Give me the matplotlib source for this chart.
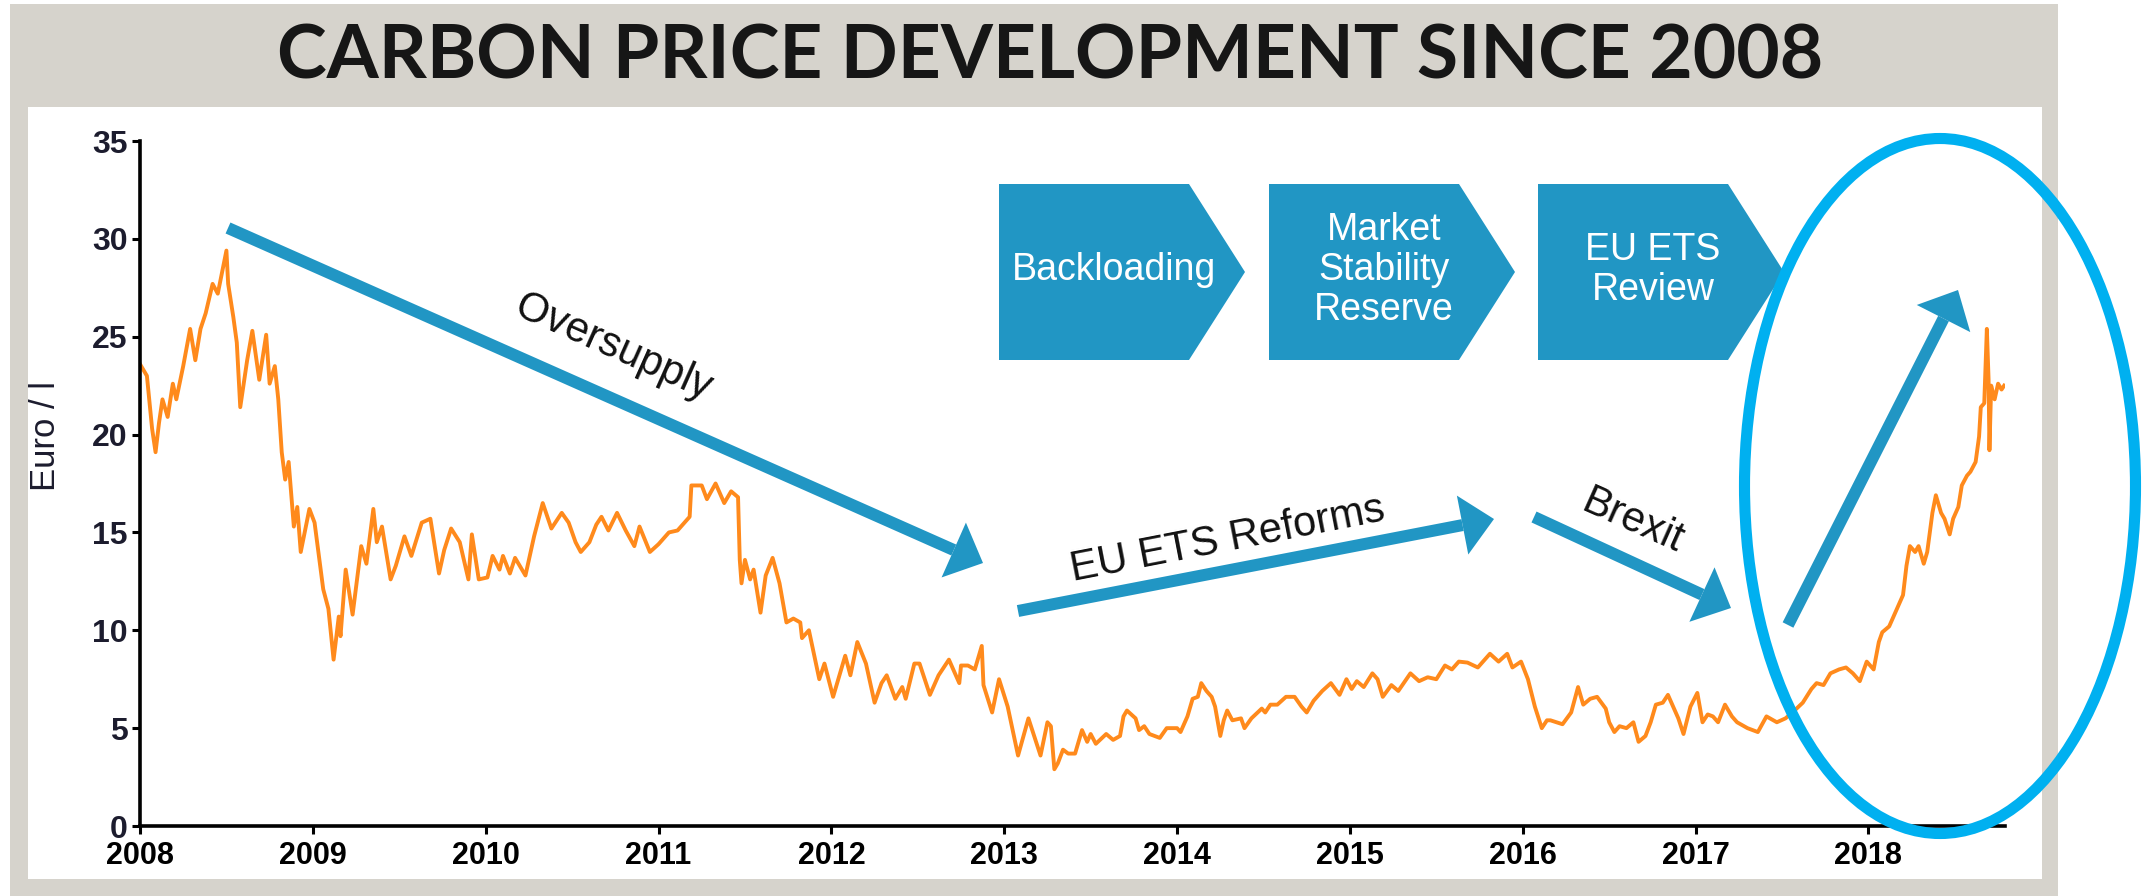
import matplotlib
matplotlib.use("Agg")
import matplotlib.pyplot as plt
import numpy as np
from matplotlib import font_manager
from matplotlib.patches import Rectangle, Polygon, Ellipse

# EUA carbon price, Euro per tonne (decimal year, price)
years = [
    2008.00, 2008.04, 2008.07, 2008.09, 2008.11, 2008.13, 2008.16, 2008.19, 2008.21, 2008.25,
    2008.29, 2008.32, 2008.35, 2008.38, 2008.42, 2008.45, 2008.50, 2008.51, 2008.54, 2008.56,
    2008.58, 2008.62, 2008.65, 2008.69, 2008.73, 2008.75, 2008.78, 2008.80, 2008.82, 2008.84,
    2008.86, 2008.89, 2008.91, 2008.93, 2008.98, 2009.01, 2009.06, 2009.09, 2009.12, 2009.15,
    2009.16, 2009.19, 2009.23, 2009.28, 2009.31, 2009.35, 2009.37, 2009.40, 2009.45, 2009.48,
    2009.53, 2009.57, 2009.63, 2009.68, 2009.73, 2009.76, 2009.80, 2009.85, 2009.90, 2009.92,
    2009.96, 2010.01, 2010.04, 2010.08, 2010.10, 2010.14, 2010.17, 2010.23, 2010.28, 2010.33,
    2010.38, 2010.44, 2010.48, 2010.52, 2010.55, 2010.60, 2010.64, 2010.67, 2010.71, 2010.76,
    2010.81, 2010.86, 2010.89, 2010.95, 2011.00, 2011.06, 2011.11, 2011.18, 2011.19, 2011.25,
    2011.28, 2011.33, 2011.38, 2011.42, 2011.46, 2011.47, 2011.48, 2011.50, 2011.53, 2011.55,
    2011.59, 2011.62, 2011.66, 2011.70, 2011.74, 2011.78, 2011.82, 2011.83, 2011.87, 2011.93,
    2011.96, 2012.01, 2012.08, 2012.11, 2012.15, 2012.20, 2012.25, 2012.29, 2012.32, 2012.37,
    2012.41, 2012.43, 2012.48, 2012.51, 2012.57, 2012.62, 2012.68, 2012.74, 2012.75, 2012.79,
    2012.83, 2012.87, 2012.88, 2012.93, 2012.97, 2013.02, 2013.08, 2013.14, 2013.21, 2013.25,
    2013.27, 2013.29, 2013.31, 2013.34, 2013.37, 2013.41, 2013.45, 2013.48, 2013.50, 2013.53,
    2013.59, 2013.63, 2013.67, 2013.69, 2013.71, 2013.76, 2013.78, 2013.81, 2013.84, 2013.90,
    2013.94, 2014.00, 2014.02, 2014.06, 2014.09, 2014.12, 2014.14, 2014.17, 2014.20, 2014.22,
    2014.25, 2014.27, 2014.29, 2014.32, 2014.37, 2014.39, 2014.43, 2014.49, 2014.51, 2014.54,
    2014.58, 2014.63, 2014.68, 2014.72, 2014.75, 2014.79, 2014.84, 2014.89, 2014.94, 2014.98,
    2015.01, 2015.04, 2015.08, 2015.13, 2015.16, 2015.19, 2015.24, 2015.28, 2015.35, 2015.40,
    2015.45, 2015.50, 2015.55, 2015.59, 2015.63, 2015.68, 2015.74, 2015.81, 2015.86, 2015.91,
    2015.94, 2015.99, 2016.03, 2016.07, 2016.11, 2016.14, 2016.16, 2016.23, 2016.28, 2016.32,
    2016.35, 2016.39, 2016.43, 2016.48, 2016.50, 2016.53, 2016.56, 2016.60, 2016.64, 2016.67,
    2016.71, 2016.74, 2016.77, 2016.81, 2016.84, 2016.87, 2016.90, 2016.93, 2016.97, 2017.01,
    2017.04, 2017.07, 2017.10, 2017.13, 2017.17, 2017.21, 2017.24, 2017.30, 2017.36, 2017.41,
    2017.47, 2017.52, 2017.56, 2017.62, 2017.67, 2017.70, 2017.74, 2017.78, 2017.83, 2017.87,
    2017.91, 2017.95, 2017.99, 2018.03, 2018.06, 2018.08, 2018.12, 2018.14, 2018.18, 2018.20,
    2018.22, 2018.24, 2018.27, 2018.29, 2018.32, 2018.34, 2018.37, 2018.39, 2018.42, 2018.44,
    2018.47, 2018.49, 2018.52, 2018.54, 2018.57, 2018.59, 2018.62, 2018.64, 2018.65, 2018.67,
    2018.685, 2018.695, 2018.70, 2018.71, 2018.73, 2018.75, 2018.77, 2018.785,
]
prices = [
    23.6, 23.0, 20.3, 19.1, 20.6, 21.8, 20.9, 22.6, 21.8, 23.5,
    25.4, 23.8, 25.4, 26.2, 27.7, 27.2, 29.4, 27.7, 26.0, 24.7,
    21.4, 23.8, 25.3, 22.8, 25.1, 22.6, 23.5, 21.8, 19.1, 17.7,
    18.6, 15.3, 16.3, 14.0, 16.2, 15.5, 12.1, 11.1, 8.5, 10.7,
    9.7, 13.1, 10.8, 14.3, 13.4, 16.2, 14.5, 15.3, 12.6, 13.3,
    14.8, 13.8, 15.5, 15.7, 12.9, 14.1, 15.2, 14.5, 12.6, 14.9,
    12.6, 12.7, 13.8, 13.1, 13.8, 12.9, 13.7, 12.8, 14.8, 16.5,
    15.2, 16.0, 15.5, 14.5, 14.0, 14.5, 15.4, 15.8, 15.1, 16.0,
    15.1, 14.3, 15.3, 14.0, 14.4, 15.0, 15.1, 15.8, 17.4, 17.4,
    16.7, 17.5, 16.5, 17.1, 16.8, 13.6, 12.4, 13.6, 12.6, 13.1,
    10.9, 12.8, 13.7, 12.4, 10.4, 10.6, 10.4, 9.6, 10.0, 7.5,
    8.3, 6.6, 8.7, 7.7, 9.4, 8.3, 6.3, 7.3, 7.7, 6.5,
    7.1, 6.5, 8.3, 8.3, 6.7, 7.7, 8.5, 7.3, 8.2, 8.2,
    8.0, 9.2, 7.2, 5.8, 7.5, 6.1, 3.6, 5.5, 3.6, 5.3,
    5.1, 2.9, 3.2, 3.9, 3.7, 3.7, 4.9, 4.3, 4.7, 4.2,
    4.7, 4.4, 4.6, 5.6, 5.9, 5.5, 4.9, 5.1, 4.7, 4.5,
    5.0, 5.0, 4.8, 5.6, 6.5, 6.6, 7.3, 6.9, 6.6, 6.1,
    4.6, 5.4, 5.9, 5.4, 5.5, 5.0, 5.5, 6.0, 5.8, 6.2,
    6.2, 6.6, 6.6, 6.1, 5.8, 6.4, 6.9, 7.3, 6.7, 7.5,
    7.0, 7.4, 7.1, 7.8, 7.5, 6.6, 7.2, 6.9, 7.8, 7.4,
    7.6, 7.5, 8.2, 8.0, 8.4, 8.35, 8.1, 8.8, 8.4, 8.8,
    8.1, 8.4, 7.5, 6.1, 5.0, 5.4, 5.4, 5.2, 5.8, 7.1,
    6.2, 6.5, 6.6, 6.0, 5.3, 4.8, 5.1, 5.0, 5.3, 4.3,
    4.6, 5.3, 6.2, 6.3, 6.7, 6.1, 5.5, 4.7, 6.1, 6.8,
    5.3, 5.7, 5.6, 5.3, 6.2, 5.6, 5.3, 5.0, 4.8, 5.6,
    5.3, 5.5, 5.8, 6.3, 7.0, 7.3, 7.2, 7.8, 8.0, 8.1,
    7.8, 7.4, 8.4, 8.0, 9.4, 9.9, 10.2, 10.6, 11.4, 11.8,
    13.3, 14.3, 14.0, 14.3, 13.4, 14.0, 16.0, 16.9, 16.0, 15.7,
    14.9, 15.7, 16.3, 17.4, 17.9, 18.1, 18.6, 19.9, 21.4, 21.6,
    25.4, 22.8, 19.2, 22.5, 21.8, 22.6, 22.3, 22.5,
]
year_ticks = list(range(2008, 2019))
price_ticks = list(range(0, 36, 5))

steps = ["Backloading", "Market\nStability\nReserve", "EU ETS\nReview"]

W, H = 2144, 896
GREY = "#d6d3cc"
BLUE = "#2196c4"
CYAN = "#00b0f0"
ORANGE = "#ff8a1c"

names = {f.name for f in font_manager.fontManager.ttflist}
narrow = "Liberation Sans Narrow" if "Liberation Sans Narrow" in names else "Liberation Sans"
title_font = "Lato" if "Lato" in names else "DejaVu Sans"


def fx(x):
    return x / W


def fy(y):
    return 1 - y / H


def px(pts):
    return [(fx(x), fy(y)) for x, y in pts]


fig = plt.figure(figsize=(W / 100, H / 100), dpi=100, facecolor="white")

# grey frame and white panel
fig.add_artist(Rectangle((fx(10), 0), fx(2058) - fx(10), fy(4), transform=fig.transFigure,
                         facecolor=GREY, edgecolor="none", zorder=-10))
fig.add_artist(Rectangle((fx(28), fy(879)), fx(2042) - fx(28), fy(107) - fy(879),
                         transform=fig.transFigure, facecolor="white", edgecolor="none", zorder=-9))

fig.text(fx(1050), fy(57), "CARBON PRICE DEVELOPMENT SINCE 2008", ha="center", va="center",
         fontsize=54, fontweight="bold", family=title_font, color="#161616")

ax = fig.add_axes([fx(140), fy(826), fx(2005) - fx(140), fy(141) - fy(826)])
ax.patch.set_alpha(0)
ax.plot(years, prices, color=ORANGE, linewidth=2.8, solid_joinstyle="round")
ax.set_xlim(2008, 2018.79)
ax.set_ylim(0, 35)
ax.set_xticks(year_ticks)
ax.set_yticks(price_ticks)
ax.set_xticklabels([str(y) for y in year_ticks], family=narrow, fontweight="bold",
                   fontsize=25 if narrow != "Liberation Sans" else 22)
ax.set_yticklabels([str(v) for v in price_ticks], family="Liberation Sans", fontweight="bold",
                   fontsize=23, color="#1c1c2e")
for s in ["top", "right"]:
    ax.spines[s].set_visible(False)
for s in ["left", "bottom"]:
    ax.spines[s].set_linewidth(2.6)
ax.tick_params(direction="out", length=6, width=2.2, pad=3)
ax.tick_params(axis="x", pad=5)
ax.set_ylabel("Euro / l", family="Liberation Sans", fontsize=25, color="#1c1c2e")
ax.yaxis.set_label_coords(-0.042, 0.57)


def arrow(x0, y0, x1, y1, shaft=12, head_len=32, head_w=60):
    d = np.array([x1 - x0, y1 - y0], float)
    d /= np.hypot(*d)
    n = np.array([-d[1], d[0]])
    tip = np.array([x1, y1], float)
    base = tip - d * head_len
    start = np.array([x0, y0], float)
    body = [start + n * shaft / 2, base + n * shaft / 2, base - n * shaft / 2, start - n * shaft / 2]
    head = [tip, base + n * head_w / 2, base - n * head_w / 2]
    for poly in (body, head):
        fig.add_artist(Polygon(px(poly), closed=True, transform=fig.transFigure,
                               facecolor=BLUE, edgecolor="none", zorder=10))


arrow(228, 228, 983, 563)
arrow(1018, 611, 1494, 519)
arrow(1534, 517, 1731, 608)
arrow(1788, 625, 1958, 290)

ann = dict(family="Liberation Sans", fontsize=30, color="#111111", ha="center", va="center",
           rotation_mode="anchor", zorder=11)
fig.text(fx(613), fy(348), "Oversupply", rotation=-24, **ann)
fig.text(fx(1228), fy(540), "EU ETS Reforms", rotation=11, **ann)
fig.text(fx(1633), fy(522), "Brexit", rotation=-24, **ann)

# process chevrons
lefts = [999, 1269, 1538]
for left, label in zip(lefts, steps):
    shoulder, tip = left + 190, left + 246
    pts = [(left, 184), (shoulder, 184), (tip, 272), (shoulder, 360), (left, 360)]
    fig.add_artist(Polygon(px(pts), closed=True, transform=fig.transFigure,
                           facecolor=BLUE, edgecolor="none", zorder=10))
    fig.text(fx((left + tip) / 2 - 8), fy(270), label, ha="center", va="center",
             family="Liberation Sans", fontsize=27, color="white", linespacing=1.15, zorder=11)

fig.add_artist(Ellipse((fx(1940), fy(486)), fx(391), 695 / H, transform=fig.transFigure,
                       facecolor="none", edgecolor=CYAN, linewidth=8, zorder=12))

fig.savefig("out.png", dpi=100, facecolor="white")
